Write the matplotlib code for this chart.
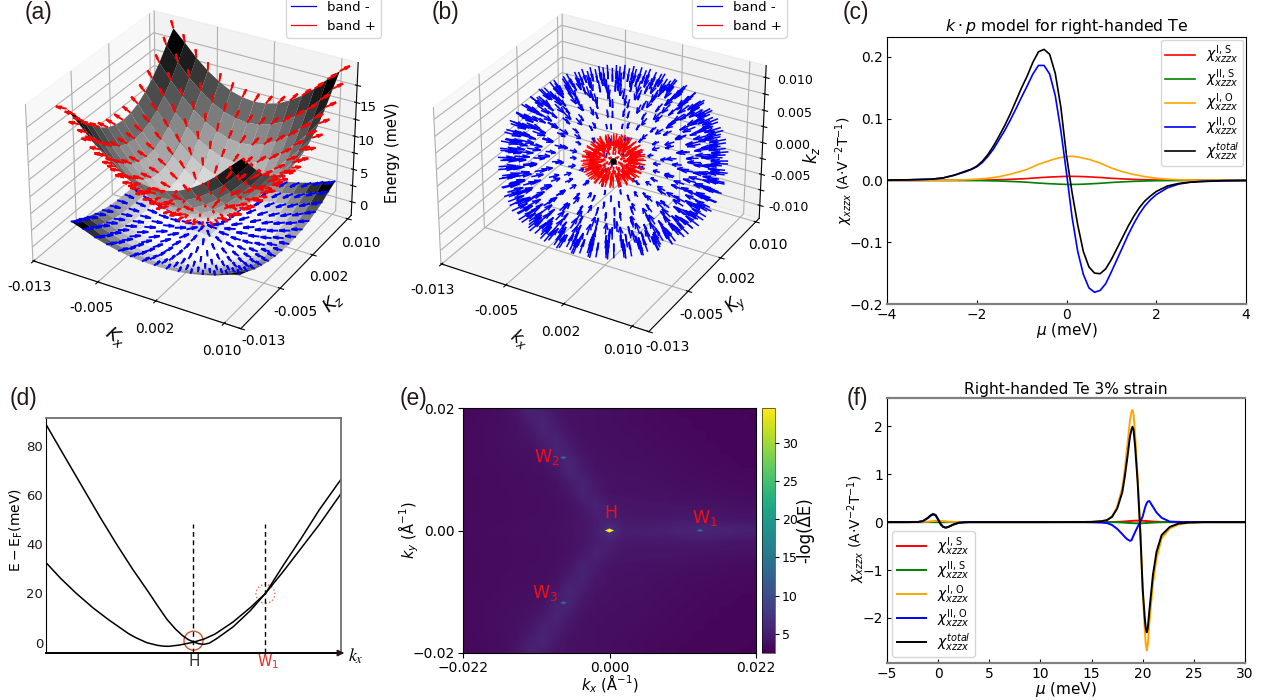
import numpy as np
import matplotlib
matplotlib.use('Agg')
import matplotlib.pyplot as plt

# (a) quadrant tables of the two bands, index 0 is k = 0, step 0.00145
k_step = 0.00145
band_plus = [
    [0.00, 0.95, 2.10, 3.50, 5.20, 7.10, 9.30, 11.60],
    [0.95, 1.40, 2.40, 3.80, 5.40, 7.30, 9.50, 11.80],
    [2.10, 2.40, 3.30, 4.50, 6.10, 7.90, 10.00, 12.30],
    [3.50, 3.80, 4.50, 5.60, 7.10, 8.90, 10.90, 13.20],
    [5.20, 5.40, 6.10, 7.10, 8.50, 10.20, 12.20, 14.40],
    [7.10, 7.30, 7.90, 8.90, 10.20, 11.80, 13.70, 15.90],
    [9.30, 9.50, 10.00, 10.90, 12.20, 13.70, 15.60, 17.70],
    [11.60, 11.80, 12.30, 13.20, 14.40, 15.90, 17.70, 19.40],
]
band_minus = [
    [0.00, -0.70, -1.15, -1.34, -1.28, -1.00, -0.45, 0.30],
    [-0.70, -0.91, -1.21, -1.35, -1.26, -0.95, -0.40, 0.35],
    [-1.15, -1.21, -1.33, -1.34, -1.17, -0.80, -0.25, 0.50],
    [-1.34, -1.35, -1.34, -1.23, -0.98, -0.55, 0.00, 0.80],
    [-1.28, -1.26, -1.17, -0.98, -0.64, -0.20, 0.40, 1.20],
    [-1.00, -0.95, -0.80, -0.55, -0.20, 0.35, 0.95, 1.70],
    [-0.45, -0.40, -0.25, 0.00, 0.40, 0.95, 1.70, 2.40],
    [0.30, 0.35, 0.50, 0.80, 1.20, 1.70, 2.40, 3.00],
]
# arrow direction in the k plane, degrees from kx
arrow_angle = [
    [0, 90, 90, 90, 90, 90, 90, 90],
    [0, 45, 63, 72, 76, 79, 81, 82],
    [0, 27, 45, 56, 63, 68, 72, 74],
    [0, 18, 34, 45, 53, 59, 63, 67],
    [0, 14, 27, 37, 45, 51, 56, 60],
    [0, 11, 22, 31, 39, 45, 50, 54],
    [0, 9, 18, 27, 34, 40, 45, 49],
    [0, 8, 16, 23, 30, 36, 41, 45],
]
k_ticks = [-0.013, -0.005, 0.002, 0.010]
k_labels = ['-0.013', '-0.005', '0.002', '0.010']
e_ticks = [0, 2.5, 5, 7.5, 10, 12.5, 15, 17.5]
e_labels = ['0', '', '5', '', '10', '', '15', '']

# (b) rows of arrows on the two shells
blue_lat = [-85.5, -76.5, -67.5, -58.5, -49.5, -40.5, -31.5, -22.5, -13.5, -4.5,
            4.5, 13.5, 22.5, 31.5, 40.5, 49.5, 58.5, 67.5, 76.5, 85.5]
blue_count = [4, 10, 16, 21, 26, 31, 34, 37, 39, 40, 40, 39, 37, 34, 31, 26, 21, 16, 10, 4]
red_lat = [-75, -60, -45, -30, -15, 0, 15, 30, 45, 60, 75]
red_count = [6, 12, 16, 20, 22, 24, 22, 20, 16, 12, 6]
blue_radius = 0.012
red_radius = 0.0034
kz_ticks = [-0.010, -0.0075, -0.005, -0.0025, 0, 0.0025, 0.005, 0.0075, 0.010]
kz_labels = ['-0.010', '', '-0.005', '', '0.000', '', '0.005', '', '0.010']

# (c)
c_mu = [-4, -3.5, -3, -2.75, -2.5, -2.25, -2, -1.75, -1.5, -1.25, -1, -0.875, -0.75, -0.625, -0.5,
        -0.375, -0.25, -0.125, 0, 0.125, 0.25, 0.375, 0.5, 0.625, 0.75, 0.875, 1, 1.25, 1.5, 1.75,
        2, 2.25, 2.5, 2.75, 3, 3.5, 4]
c_red = [0, 0, 0, 0.0001, 0.0001, 0.0002, 0.0003, 0.0006, 0.001, 0.0017, 0.0025, 0.003, 0.0037, 0.0043,
         0.0049, 0.0054, 0.0058, 0.0062, 0.0065, 0.0065, 0.0064, 0.0061, 0.0057, 0.0052, 0.0047, 0.004,
         0.0034, 0.0024, 0.0016, 0.001, 0.0006, 0.0003, 0.0002, 0.0001, 0.0001, 0, 0]
c_green = [0, 0, 0, -0.0001, -0.0001, -0.0002, -0.0003, -0.0006, -0.001, -0.0017, -0.0025, -0.003, -0.0037,
           -0.0043, -0.0049, -0.0054, -0.0058, -0.0062, -0.0065, -0.0065, -0.0064, -0.0061, -0.0057, -0.0052,
           -0.0047, -0.004, -0.0034, -0.0024, -0.0016, -0.001, -0.0006, -0.0003, -0.0002, -0.0001, -0.0001, 0, 0]
c_orange = [0, 0, 0.0001, 0.0003, 0.0005, 0.001, 0.002, 0.0035, 0.006, 0.010, 0.015, 0.018, 0.022, 0.026,
            0.029, 0.032, 0.035, 0.037, 0.0385, 0.039, 0.038, 0.036, 0.034, 0.031, 0.028, 0.024, 0.020,
            0.014, 0.0095, 0.006, 0.0035, 0.002, 0.001, 0.0006, 0.0003, 0.0001, 0]
c_mu_big = [-4, -3.5, -3, -2.75, -2.5, -2.25, -2.125, -2, -1.875, -1.75, -1.625, -1.5, -1.375, -1.25, -1.125, -1,
            -0.875, -0.75, -0.625, -0.5, -0.375, -0.25, -0.125, 0, 0.125, 0.25, 0.375, 0.5, 0.625, 0.75, 0.875, 1,
            1.125, 1.25, 1.375, 1.5, 1.625, 1.75, 1.875, 2, 2.25, 2.5, 2.75, 3, 3.5, 4]
c_blue = [0.0003, 0.001, 0.002, 0.004, 0.0083, 0.014, 0.0175, 0.022, 0.029, 0.039, 0.051, 0.066, 0.081, 0.098, 0.116,
          0.135, 0.153, 0.172, 0.186, 0.186, 0.172, 0.137, 0.08, 0.012, -0.06, -0.115, -0.152, -0.174, -0.181,
          -0.178, -0.167, -0.148, -0.128, -0.108, -0.088, -0.070, -0.054, -0.041, -0.031, -0.023, -0.012, -0.006,
          -0.003, -0.0015, -0.0005, -0.0002]
c_black = [0.0003, 0.001, 0.002, 0.004, 0.0085, 0.015, 0.018, 0.023, 0.031, 0.042, 0.056, 0.072, 0.089, 0.108, 0.129,
           0.150, 0.169, 0.191, 0.208, 0.212, 0.204, 0.173, 0.118, 0.040, -0.02, -0.072, -0.115, -0.14, -0.150,
           -0.151, -0.143, -0.128, -0.110, -0.092, -0.074, -0.058, -0.044, -0.033, -0.025, -0.018, -0.009, -0.005,
           -0.003, -0.002, -0.0005, -0.0001]

# (d) H is at k = 0, W1 at k = 1
d_k_a = [-2.05, -1.86, -1.7, -1.55, -1.3, -1.07, -0.85, -0.625, -0.5, -0.37, -0.25, -0.15, -0.07, 0, 0.07, 0.14,
         0.22, 0.32, 0.55, 0.79, 1, 1.25, 1.5, 1.75, 2.05]
d_e_a = [88.6, 79, 71, 63.5, 51, 40, 30, 20.5, 15, 9.5, 5.5, 2.8, 1.2, 0.3, -0.4, -0.7, -0.2, 1.6, 6.4, 13, 20,
         31.5, 42.5, 54, 66.3]
d_k_b = [-2.05, -1.85, -1.64, -1.4, -1.18, -0.9, -0.8, -0.65, -0.5, -0.42, -0.35, -0.2, -0.1, 0, 0.15, 0.3, 0.55,
         0.8, 1, 1.25, 1.5, 1.75, 2.05]
d_e_b = [32.5, 26.2, 20.3, 14.2, 9.3, 3.6, 2.0, 0.0, -1.1, -1.4, -1.5, -1, -0.4, 0.2, 1.5, 3.5, 8.4, 14.5, 20, 29,
         38.5, 48, 60.5]
d_ticks = [0, 20, 40, 60, 80]

# (e) top half of the map, rows ky = 0.020 ... 0.000, columns kx = -0.022 ... 0.022
map_top = [
    [3.2, 3.3, 3.4, 3.6, 4.2, 5.6, 5.0, 4.2, 3.9, 3.8, 3.7, 3.6, 3.5, 3.4, 3.3, 3.2, 3.1, 3.0, 3.0, 2.9, 2.9, 2.8, 2.8],
    [3.2, 3.3, 3.5, 3.6, 4.0, 5.0, 5.7, 4.6, 3.9, 3.8, 3.7, 3.6, 3.5, 3.4, 3.3, 3.2, 3.1, 3.1, 3.0, 3.0, 2.9, 2.9, 2.8],
    [3.3, 3.4, 3.5, 3.7, 3.9, 4.3, 5.5, 5.2, 4.2, 3.8, 3.7, 3.7, 3.6, 3.5, 3.4, 3.3, 3.2, 3.1, 3.1, 3.0, 3.0, 2.9, 2.9],
    [3.3, 3.4, 3.5, 3.7, 3.8, 4.0, 4.7, 5.8, 4.7, 3.9, 3.8, 3.7, 3.7, 3.6, 3.5, 3.4, 3.3, 3.2, 3.1, 3.1, 3.0, 3.0, 2.9],
    [3.3, 3.4, 3.5, 3.6, 3.7, 3.8, 4.1, 5.3, 5.5, 4.3, 3.9, 3.8, 3.7, 3.7, 3.6, 3.5, 3.4, 3.3, 3.2, 3.1, 3.1, 3.0, 3.0],
    [3.3, 3.4, 3.4, 3.5, 3.6, 3.7, 3.8, 4.5, 5.9, 4.8, 4.0, 3.9, 3.8, 3.8, 3.7, 3.6, 3.5, 3.4, 3.3, 3.2, 3.2, 3.1, 3.1],
    [3.3, 3.3, 3.4, 3.5, 3.5, 3.6, 3.7, 3.9, 5.0, 5.5, 4.4, 4.0, 3.9, 3.9, 3.8, 3.7, 3.6, 3.5, 3.5, 3.4, 3.3, 3.3, 3.2],
    [3.3, 3.3, 3.4, 3.4, 3.5, 3.6, 3.6, 3.8, 4.3, 5.5, 4.8, 4.1, 4.0, 4.0, 3.9, 3.9, 3.8, 3.7, 3.7, 3.6, 3.5, 3.5, 3.4],
    [3.3, 3.3, 3.4, 3.4, 3.5, 3.5, 3.6, 3.7, 3.9, 4.7, 5.5, 4.6, 4.3, 4.2, 4.2, 4.2, 4.1, 4.1, 4.0, 4.0, 3.9, 3.8, 3.8],
    [3.3, 3.4, 3.4, 3.4, 3.5, 3.6, 3.6, 3.7, 3.9, 4.3, 5.0, 5.2, 4.6, 4.5, 4.5, 4.5, 4.6, 4.6, 4.6, 4.5, 4.4, 4.3, 4.3],
    [3.4, 3.4, 3.5, 3.5, 3.6, 3.6, 3.7, 3.8, 4.0, 4.3, 4.9, 7.0, 5.1, 5.0, 5.1, 5.3, 5.5, 5.8, 5.9, 5.8, 5.6, 5.4, 5.3],
]
peak_kx = [0.0, 0.0136, -0.0069, -0.0069]
peak_ky = [0.0, 0.0, 0.0119, -0.0118]
peak_value = [34.6, 13, 13, 13]
e_cbar_ticks = [5, 10, 15, 20, 25, 30]

# (f)
f_mu = [-5, -3, -2, -1.5, -1, -0.75, -0.5, -0.25, 0, 0.25, 0.5, 0.75, 1, 1.5, 2, 2.5, 3, 5, 10, 14, 15, 16, 16.5,
        17, 17.5, 18, 18.25, 18.5, 18.75, 18.9, 19, 19.1, 19.25, 19.5, 19.75, 20, 20.2, 20.3, 20.4, 20.5, 20.65, 21,
        21.35, 21.85, 22.65, 23.5, 24.5, 26, 30]
f_red = [0, 0, 0, 0, 0.002, 0.003, 0.004, 0.004, 0.004, 0.004, 0.003, 0.002, 0.001, 0, 0, 0, 0, 0, 0, 0, 0, 0, 0.001,
         0.002, 0.005, 0.01, 0.014, 0.018, 0.023, 0.025, 0.027, 0.028, 0.03, 0.03, 0.03, 0.028, 0.025, 0.024, 0.022,
         0.02, 0.018, 0.012, 0.008, 0.004, 0.001, 0, 0, 0, 0]
f_green = [0, 0, 0, 0, 0, -0.001, -0.002, -0.002, -0.002, -0.002, -0.002, -0.001, 0, 0, 0, 0, 0, 0, 0, 0, 0, 0, -0.001,
           -0.002, -0.004, -0.008, -0.012, -0.015, -0.019, -0.02, -0.022, -0.023, -0.024, -0.025, -0.025, -0.023,
           -0.021, -0.02, -0.018, -0.017, -0.015, -0.01, -0.006, -0.003, -0.001, 0, 0, 0, 0]
f_orange = [0, 0, 0.001, 0.005, 0.01, 0.015, 0.02, 0.025, 0.03, 0.025, 0.02, 0.015, 0.01, 0.005, 0.001, 0, 0, 0, 0,
            0.002, 0.006, 0.022, 0.045, 0.12, 0.32, 0.72, 1.1, 1.6, 2.12, 2.3, 2.34, 2.25, 1.85, 0.95, -0.1, -1.45,
            -2.25, -2.55, -2.68, -2.55, -2.1, -1.28, -0.76, -0.34, -0.13, -0.05, -0.015, 0, 0]
f_blue = [0, 0, 0.003, 0.02, 0.085, 0.13, 0.16, 0.14, 0.05, -0.05, -0.10, -0.115, -0.10, -0.05, -0.015, -0.005, 0, 0, 0,
          0, -0.002, -0.01, -0.02, -0.06, -0.14, -0.25, -0.31, -0.36, -0.39, -0.38, -0.33, -0.28, -0.21, -0.1, 0.0,
          0.12, 0.28, 0.35, 0.4, 0.43, 0.44, 0.32, 0.2, 0.09, 0.01, 0.005, 0, 0, 0]
f_black = [0, 0, 0.003, 0.02, 0.09, 0.14, 0.17, 0.15, 0.06, -0.04, -0.10, -0.115, -0.10, -0.05, -0.015, -0.005, 0, 0, 0,
           0.002, 0.005, 0.02, 0.04, 0.11, 0.28, 0.62, 0.95, 1.35, 1.78, 1.93, 1.99, 1.93, 1.6, 0.85, -0.15, -1.4, -2.0,
           -2.22, -2.3, -2.2, -1.85, -1.1, -0.62, -0.27, -0.1, -0.03, -0.01, 0, 0]

W, H = 1267, 700
plt.rcParams['mathtext.default'] = 'it'
fig = plt.figure(figsize=(W / 100, H / 100), dpi=100)


def rect(left, top, right, bottom):
    return [left / W, 1 - bottom / H, (right - left) / W, (bottom - top) / H]


def put(x, y, s, **kw):
    fig.text(x / W, 1 - y / H, s, ha='center', va='center', **kw)


def mirror(q):
    q = np.array(q, dtype=float)
    full = np.vstack([q[:0:-1], q])
    return np.hstack([full[:, :0:-1], full])


def panel_letter(x, y, s):
    fig.text(x / W, 1 - y / H, s, fontsize=16.5, family='Liberation Sans', color='#231815', va='center')


def band_legend(x0):
    handles = [plt.Line2D([], [], color='b', lw=0.9), plt.Line2D([], [], color='r', lw=0.9)]
    fig.legend(handles, ['band -', 'band +'], loc='lower left', fontsize=9.5, bbox_to_anchor=(x0 / W, 1 - 38 / H),
               borderaxespad=0, handlelength=1.9, handletextpad=0.8, labelspacing=0.45)


def style_3d(ax, x_spots, y_spots):
    ax.set_xticks(k_ticks)
    ax.set_xticklabels([''] * 4)
    ax.set_yticks(k_ticks)
    ax.set_yticklabels([''] * 4)
    ax.set_xlim(-0.0131, 0.0119)
    ax.set_ylim(-0.013, 0.0108)
    for (px, py), s in zip(x_spots + y_spots, k_labels + k_labels):
        put(px, py, s, fontsize=10)


def shell_dirs(lats, counts):
    rows = []
    for la, n in zip(lats, counts):
        lon = np.radians(np.arange(n) * 360 / n + la)
        la = np.radians(la)
        rows.append(np.c_[np.cos(la) * np.cos(lon), np.cos(la) * np.sin(lon), np.sin(la) * np.ones(n)])
    return np.vstack(rows)


# grid of the surface
n_side = np.arange(-7, 8) * k_step
kx, ky = np.meshgrid(n_side, n_side, indexing='ij')
angle = mirror(arrow_angle)
sign_x = np.sign(n_side)[:, None]
sign_y = np.sign(n_side)[None, :]
ux = np.cos(np.radians(angle)) * sign_x
uy = np.sin(np.radians(angle)) * sign_y
# the energy axis of (a) is drawn in eV so that the arrow heads stay in shape
to_ev = 0.001
arrow_tilt = 0.3


def slope_along(e):
    de_x, de_y = np.gradient(e, k_step)
    return (ux * de_x + uy * de_y) * arrow_tilt


# (a)
ax = fig.add_axes(rect(-45, -18, 425, 352), projection='3d', computed_zorder=False)
ax.patch.set_alpha(0)
e_minus = mirror(band_minus) * to_ev
e_plus = mirror(band_plus) * to_ev
ax.plot_surface(kx, ky, e_minus, cmap='gray_r', rstride=1, cstride=1, linewidth=0, zorder=1)
ax.quiver(kx, ky, e_minus, -ux, -uy, -slope_along(e_minus), length=0.0012, normalize=True, arrow_length_ratio=0.55,
          color='b', lw=1.4, zorder=2)
ax.plot_surface(kx, ky, e_plus, cmap='gray_r', rstride=1, cstride=1, linewidth=0, zorder=3)
ax.quiver(kx, ky, e_plus, ux, uy, slope_along(e_plus), length=0.0012, normalize=True, arrow_length_ratio=0.55,
          color='r', lw=1.4, zorder=4)
style_3d(ax, [(30, 287), (91, 308), (155, 329), (222, 351)], [(264, 341), (295, 312), (329, 277), (361, 243)])
ax.set_zlim(-2.1 * to_ev, 20.8 * to_ev)
ax.set_zticks(np.array(e_ticks) * to_ev)
ax.set_zticklabels(e_labels, fontsize=9.5)
ax.tick_params(axis='z', pad=-3)
put(115, 337, '$K_x$', fontsize=13, rotation=-35)
put(333, 303, '$K_z$', fontsize=13, rotation=42)
put(392, 153, 'Energy (meV)', fontsize=10.5, rotation=90)
band_legend(286)
panel_letter(25, 13, '(a)')

# (b)
ax = fig.add_axes(rect(363, -15, 833, 355), projection='3d', computed_zorder=False)
ax.patch.set_alpha(0)
d = shell_dirs(blue_lat, blue_count)
ax.quiver(blue_radius * d[:, 0], blue_radius * d[:, 1], blue_radius * d[:, 2], -d[:, 0], -d[:, 1], -d[:, 2],
          length=0.0018, arrow_length_ratio=0.55, color='b', lw=1.1, zorder=1)
d = shell_dirs(red_lat, red_count)
ax.quiver(red_radius * d[:, 0], red_radius * d[:, 1], red_radius * d[:, 2], -d[:, 0], -d[:, 1], -d[:, 2],
          length=0.0014, arrow_length_ratio=0.4, color='r', lw=1.0, zorder=2)
ax.scatter([0], [0], [0], color='k', s=14, zorder=3, depthshade=False)
style_3d(ax, [(433, 290), (496, 311), (561, 332), (623, 350)], [(668, 347), (702, 315), (736, 279), (768, 245)])
ax.set_zlim(-0.0121, 0.0118)
ax.set_zticks(kz_ticks)
ax.set_zticklabels(kz_labels, fontsize=9)
ax.tick_params(axis='z', pad=5)
put(520, 339, '$k_x$', fontsize=12, rotation=-35)
put(737, 305, '$K_y$', fontsize=12, rotation=42)
put(811, 155, '$k_z$', fontsize=12, rotation=90)
band_legend(692)
panel_letter(432, 13, '(b)')

# legends of (c) and (f)
names = [r'$\chi^{\mathrm{I,\,S}}_{xzzx}$', r'$\chi^{\mathrm{II,\,S}}_{xzzx}$', r'$\chi^{\mathrm{I,\,O}}_{xzzx}$',
         r'$\chi^{\mathrm{II,\,O}}_{xzzx}$', r'$\chi^{total}_{xzzx}$']
curve_colors = ['r', 'g', 'orange', 'b', 'k']
y_name = r'$\chi_{xzzx}$ (A$\cdot$V$^{-2}$T$^{-1}$)'


def style_2d(ax, top_grey=False):
    ax.tick_params(direction='in', length=3, width=0.8, labelsize=10, pad=3)
    ax.spines['bottom'].set_color('#808080')
    ax.spines['bottom'].set_linewidth(1.6)
    if top_grey:
        ax.spines['top'].set_color('#808080')
        ax.spines['top'].set_linewidth(1.6)


# (c)
ax = fig.add_axes(rect(887, 37, 1246, 304))
ax.plot(c_mu, c_red, color='r', lw=1.2, label=names[0])
ax.plot(c_mu, c_green, color='g', lw=1.2, label=names[1])
ax.plot(c_mu, c_orange, color='orange', lw=1.2, label=names[2])
ax.plot(c_mu_big, c_blue, color='b', lw=1.2, label=names[3])
ax.plot(c_mu_big, c_black, color='k', lw=1.2, label=names[4])
ax.set_xlim(-4, 4)
ax.set_ylim(-0.2, 0.232)
ax.set_xticks([-4, -2, 0, 2, 4])
ax.set_yticks([-0.2, -0.1, 0, 0.1, 0.2])
style_2d(ax)
ax.set_xlabel(r'$\mu$ (meV)', fontsize=11, labelpad=-1)
ax.set_ylabel(y_name, fontsize=10)
ax.yaxis.set_label_coords(-0.089, 0.5)
ax.set_title(r'$k\cdot p$ model for right-handed Te', fontsize=11.3, pad=4)
ax.legend(loc='upper right', fontsize=10, bbox_to_anchor=(0.993, 0.99), borderaxespad=0, handlelength=2.1,
          handletextpad=0.8, labelspacing=0.1, borderpad=0.3)
panel_letter(843, 13, '(c)')

# (d)
ax = fig.add_axes(rect(46, 418, 341, 653))
ax.plot(d_k_a, d_e_a, color='k', lw=1.1)
ax.plot(d_k_b, d_e_b, color='k', lw=1.1)
ax.plot([0, 0], [-4.2, 48], color='k', lw=1, ls=(0, (3.5, 2.5)))
ax.plot([1, 1], [-4.2, 48], color='k', lw=1, ls=(0, (3.5, 2.5)))
ax.scatter([0], [0.8], s=187, facecolors='none', edgecolors='#d9512c', linewidths=1)
ax.scatter([1], [19.8], s=187, facecolors='none', edgecolors='#e0694a', linewidths=1, linestyle=':')
ax.set_xlim(-2.05, 2.05)
ax.set_ylim(-4.2, 91.2)
ax.set_xticks([])
ax.set_yticks(d_ticks)
ax.tick_params(axis='y', labelsize=9.5, length=0, pad=2, colors='#231815')
ax.spines['top'].set_color('#707070')
ax.spines['right'].set_color('#707070')
ax.spines['top'].set_linewidth(1.3)
ax.spines['right'].set_linewidth(1.3)
ax.spines['bottom'].set_linewidth(1.4)
ax.set_ylabel(r'$\mathrm{E}-\mathrm{E_F}$(meV)', fontsize=10)
ax.yaxis.set_label_coords(-0.071, 0.523)
ax.annotate('', xy=(347 / W, 1 - 653 / H), xytext=(338 / W, 1 - 653 / H), xycoords='figure fraction',
            arrowprops=dict(arrowstyle='-|>', color='#231815', lw=1.2, mutation_scale=9))
put(356, 656, r'$k_x$', fontsize=13, math_fontfamily='stix')
put(194, 662, 'H', fontsize=11, color='#333333')
put(268, 662, r'W$_{\mathrm{1}}$', fontsize=10.5, color='#f02a1d')
panel_letter(10, 398, '(d)')

# (e)
ax = fig.add_axes(rect(463, 408, 756, 653))
top = np.array(map_top)
grid = np.vstack([top, top[-2::-1]])
im = ax.imshow(grid, cmap='viridis', vmin=2.46, vmax=34.6, extent=[-0.023, 0.023, -0.021, 0.021],
               interpolation='bilinear', aspect='auto')
flat_diamond = [(-1, 0), (0, 0.45), (1, 0), (0, -0.45), (-1, 0)]
ax.scatter(peak_kx, peak_ky, c=peak_value, cmap='viridis', vmin=2.46, vmax=34.6, s=[42, 25, 25, 25],
           marker=flat_diamond, linewidths=0)
ax.set_xlim(-0.022, 0.022)
ax.set_ylim(-0.02, 0.02)
ax.set_xticks([-0.022, 0, 0.022])
ax.set_xticklabels(['\u22120.022', '0.000', '0.022'])
ax.set_yticks([-0.02, 0, 0.02])
ax.set_yticklabels(['\u22120.02', '0.00', '0.02'])
ax.tick_params(labelsize=10, length=3.5, pad=2.5)
ax.set_xlabel(r'$k_x$ ($\mathrm{\AA}^{-1}$)', fontsize=10.5, labelpad=-2)
ax.set_ylabel(r'$k_y$ ($\mathrm{\AA}^{-1}$)', fontsize=10.5)
ax.yaxis.set_label_coords(-0.143, 0.5)
for tx, ty, s in [(-0.0094, 0.0120, r'W$_{\mathrm{2}}$'), (-0.0097, -0.0102, r'W$_{\mathrm{3}}$'),
                  (0.0143, 0.0020, r'W$_{\mathrm{1}}$'), (0.0002, 0.0029, 'H')]:
    ax.text(tx, ty, s, color='#f01010', fontsize=12.5, ha='center', va='center')
cax = fig.add_axes(rect(762, 408, 775, 653))
cb = fig.colorbar(im, cax=cax, ticks=e_cbar_ticks)
cb.ax.tick_params(labelsize=9, length=3, pad=2)
cb.outline.set_linewidth(0.4)
cb.set_label('-log(\u0394E)', fontsize=12, labelpad=-1)
panel_letter(400, 398, '(e)')

# (f)
ax = fig.add_axes(rect(887, 398, 1245, 663))
for vals, col, name in zip([f_red, f_green, f_orange, f_blue, f_black], curve_colors, names):
    ax.plot(f_mu, vals, color=col, lw=1.4, label=name)
ax.set_xlim(-5, 30)
ax.set_ylim(-2.94, 2.59)
ax.set_xticks([-5, 0, 5, 10, 15, 20, 25, 30])
ax.set_yticks([-2, -1, 0, 1, 2])
style_2d(ax, top_grey=True)
ax.set_xlabel(r'$\mu$ (meV)', fontsize=11, labelpad=-1)
ax.set_ylabel(y_name, fontsize=10)
ax.yaxis.set_label_coords(-0.056, 0.505)
ax.set_title('Right-handed Te 3% strain', fontsize=11.1, pad=3)
ax.legend(loc='lower left', fontsize=10, bbox_to_anchor=(0.015, 0.022), borderaxespad=0, handlelength=2.1,
          handletextpad=0.8, labelspacing=0.1, borderpad=0.3)
panel_letter(847, 398, '(f)')

fig.savefig('out.png', dpi=100)
